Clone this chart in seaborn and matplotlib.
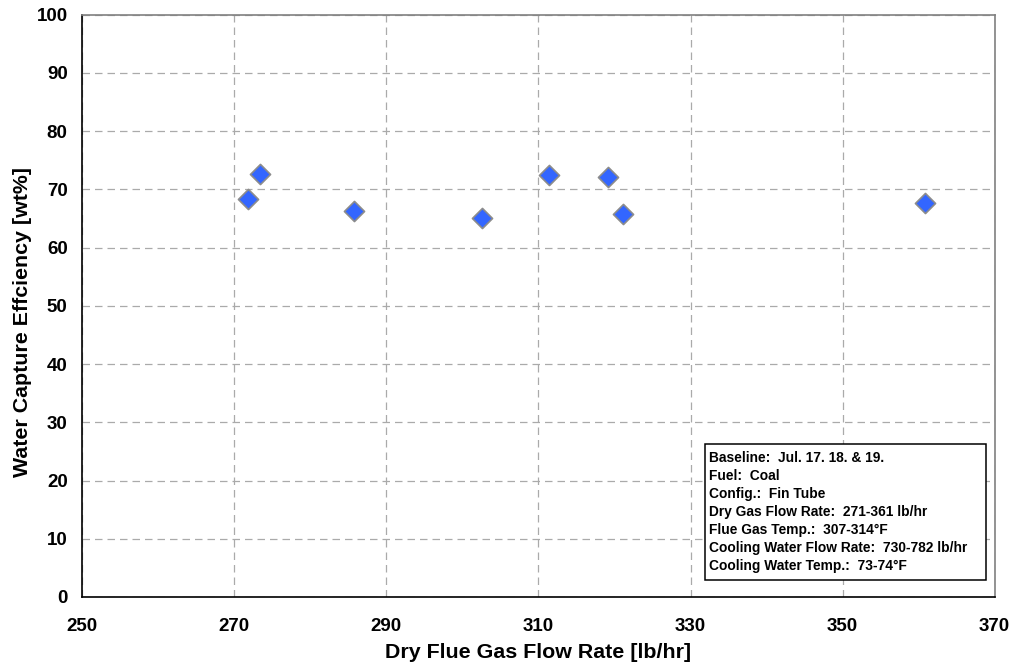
import matplotlib
matplotlib.use("Agg")
import matplotlib.pyplot as plt
from matplotlib.patches import Rectangle
import seaborn as sns
import pandas as pd

# Dry flue gas flow rate [lb/hr] and water capture efficiency [wt%]
flow_rate = [271.8, 273.4, 285.8, 302.6, 311.4, 319.1, 321.1, 360.9]
efficiency = [68.4, 72.6, 66.3, 65.1, 72.4, 72.1, 65.7, 67.7]

x_ticks = [250, 270, 290, 310, 330, 350, 370]
y_ticks = [0, 10, 20, 30, 40, 50, 60, 70, 80, 90, 100]

info_lines = [
    "Baseline:  Jul. 17. 18. & 19.",
    "Fuel:  Coal",
    "Config.:  Fin Tube",
    "Dry Gas Flow Rate:  271-361 lb/hr",
    "Flue Gas Temp.:  307-314\u00b0F",
    "Cooling Water Flow Rate:  730-782 lb/hr",
    "Cooling Water Temp.:  73-74\u00b0F",
]

sns.set_style("white")
plt.rcParams["font.family"] = ["Liberation Sans", "DejaVu Sans"]
plt.rcParams["text.color"] = "black"
plt.rcParams["axes.labelcolor"] = "black"
plt.rcParams["xtick.color"] = "black"
plt.rcParams["ytick.color"] = "black"

df = pd.DataFrame({"flow": flow_rate, "eff": efficiency})

fig = plt.figure(figsize=(10.16, 6.70), dpi=100)
ax = fig.add_axes([0.081, 0.109, 0.898, 0.869])

ax.set_xlim(250, 370)
ax.set_ylim(0, 100)
ax.set_xticks(x_ticks)
ax.set_yticks(y_ticks)
ax.grid(True, color="#aaaaaa", linestyle=(0, (6, 4)), linewidth=0.9)
ax.set_axisbelow(True)

sns.scatterplot(data=df, x="flow", y="eff", ax=ax, marker="D", s=105,
                color="#3366FF", edgecolor="#8c8c8c", linewidth=1.2,
                zorder=3, legend=False)

for side in ["left", "bottom"]:
    ax.spines[side].set_color("black")
    ax.spines[side].set_linewidth(1.2)
for side in ["top", "right"]:
    ax.spines[side].set_color("#808080")
    ax.spines[side].set_linewidth(1.2)

ax.tick_params(axis="both", direction="out", length=6, width=1,
               color="#808080", labelcolor="black", labelsize=13.5)
ax.tick_params(axis="x", pad=9)
ax.tick_params(axis="y", pad=4.5)
for lbl in ax.get_xticklabels() + ax.get_yticklabels():
    lbl.set_fontweight("bold")

ax.set_xlabel("Dry Flue Gas Flow Rate [lb/hr]", fontsize=15.4,
              fontweight="bold", labelpad=6)
ax.set_ylabel("Water Capture Effciency [wt%]", fontsize=15.4,
              fontweight="bold", labelpad=3)
ax.yaxis.set_label_coords(-0.055, 0.4725)

# Run-conditions box in the lower right of the plot area
box_x0, box_y0 = 0.6823, 0.0292
box_w, box_h = 0.3078, 0.2337
ax.add_patch(Rectangle((box_x0, box_y0), box_w, box_h, transform=ax.transAxes,
                       facecolor="white", edgecolor="black", linewidth=1.1,
                       zorder=5))
ax.text(box_x0 + 0.0045, box_y0 + box_h - 0.012, "\n".join(info_lines),
        transform=ax.transAxes, fontsize=9.9, fontweight="bold",
        va="top", ha="left", linespacing=1.36, zorder=6)

fig.savefig("out.png", dpi=100)
